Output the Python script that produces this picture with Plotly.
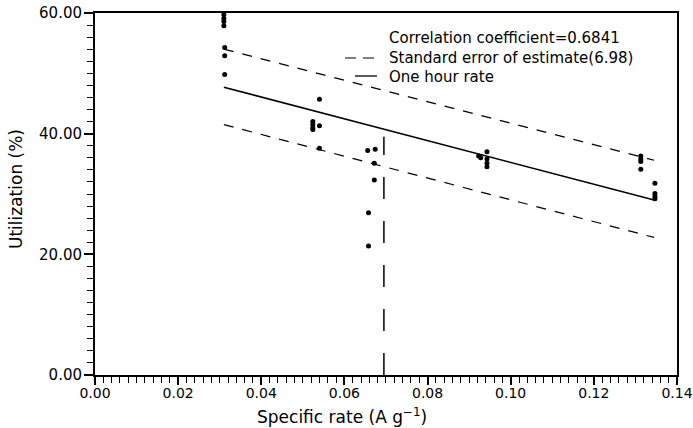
import plotly.graph_objects as go

# Data points
rate = [0.031, 0.031, 0.031, 0.031, 0.0312, 0.0312, 0.0312,
        0.0524, 0.0524, 0.0524, 0.0524, 0.054, 0.054, 0.054,
        0.0656, 0.0674, 0.0672, 0.0672, 0.0658, 0.0658,
        0.0923, 0.0928, 0.0943, 0.0943, 0.0943, 0.0943,
        0.1313, 0.1313, 0.1313, 0.1313, 0.1347, 0.1347, 0.1347, 0.1347]
util = [59.7, 59.1, 58.6, 57.9, 54.3, 52.9, 49.8,
        42.0, 41.5, 41.0, 40.7, 41.3, 45.7, 37.6,
        37.2, 37.4, 35.1, 32.3, 26.9, 21.4,
        36.3, 36.0, 37.0, 35.8, 35.1, 34.5,
        36.3, 35.8, 35.4, 34.1, 31.8, 30.1, 29.6, 29.2]

# Regression and standard-error lines (end points)
fit_x = [0.031, 0.1345]
fit_y = [47.7, 29.0]
upper_y = [54.0, 35.6]
lower_y = [41.5, 22.8]

# One hour rate marker
hour_x = [0.0695, 0.0695]
hour_y = [0, 39.5]

legend_texts = ["Correlation coefficient=0.6841",
                "Standard error of estimate(6.98)",
                "One hour rate"]

font = "DejaVu Sans"

fig = go.Figure()
fig.add_trace(go.Scatter(x=fit_x, y=upper_y, mode="lines",
                         line=dict(color="black", width=1.2, dash="10px,9px")))
fig.add_trace(go.Scatter(x=fit_x, y=lower_y, mode="lines",
                         line=dict(color="black", width=1.2, dash="10px,9px")))
fig.add_trace(go.Scatter(x=fit_x, y=fit_y, mode="lines",
                         line=dict(color="black", width=1.5)))
fig.add_trace(go.Scatter(x=hour_x, y=hour_y, mode="lines",
                         line=dict(color="black", width=1.5, dash="22px,22px")))
fig.add_trace(go.Scatter(x=rate, y=util, mode="markers",
                         marker=dict(color="black", size=5)))

# Plot area in pixels: x 95..677, y 13..375 ; paper coords are relative to it
L, R, T, B = 95, 677, 13, 375
def px(xp):
    return (xp - L) / (R - L)
def py(yp):
    return (B - yp) / (B - T)

# Legend block (text + sample lines)
fig.add_annotation(text="<br>".join(legend_texts), xref="paper", yref="paper",
                   x=px(387), y=py(27), xanchor="left", yanchor="top", align="left",
                   showarrow=False, font=dict(size=15, family=font, color="black"))
fig.add_shape(type="line", xref="paper", yref="paper", x0=px(345), x1=px(377),
              y0=py(58), y1=py(58), line=dict(color="black", width=1.2, dash="11px,7px"))
fig.add_shape(type="line", xref="paper", yref="paper", x0=px(355), x1=px(377),
              y0=py(76), y1=py(76), line=dict(color="black", width=1.3))

# Axis titles
fig.add_annotation(text="Specific rate (A g<sup>−1</sup>)", xref="paper", yref="paper",
                   x=px(342), y=py(416), xanchor="center", yanchor="middle",
                   showarrow=False, font=dict(size=17, family=font, color="black"))
fig.add_annotation(text="Utilization (%)", xref="paper", yref="paper",
                   x=px(16), y=py(189), xanchor="center", yanchor="middle", textangle=-90,
                   showarrow=False, font=dict(size=17, family=font, color="black"))

fig.update_layout(
    width=693, height=428,
    margin=dict(l=L, r=693 - R, t=T, b=428 - B),
    plot_bgcolor="white", paper_bgcolor="white",
    font=dict(family=font, size=15, color="black"),
    showlegend=False,
)
fig.update_xaxes(
    range=[0, 0.14001], tick0=0, dtick=0.02, tickformat=".2f",
    showgrid=False, zeroline=False, showline=True, linecolor="black", linewidth=2,
    mirror=True, ticks="outside", ticklen=8, tickwidth=1.5, tickcolor="black",
    minor=dict(dtick=0.002, ticks="outside", ticklen=6, tickwidth=1.2, tickcolor="black", showgrid=False),
    tickfont=dict(size=14), automargin=False, ticklabelstandoff=-4,
    ticklabeloverflow="allow",
)
fig.update_yaxes(
    range=[0, 60], tick0=0, dtick=20, tickformat=".2f",
    showgrid=False, zeroline=False, showline=True, linecolor="black", linewidth=2,
    mirror=True, ticks="outside", ticklen=9, tickwidth=1.5, tickcolor="black",
    minor=dict(dtick=2, ticks="outside", ticklen=6, tickwidth=1.2, tickcolor="black", showgrid=False),
    tickfont=dict(size=15), automargin=False, ticklabelstandoff=-1,
    ticklabeloverflow="allow",
)

fig.write_html("out.html")
